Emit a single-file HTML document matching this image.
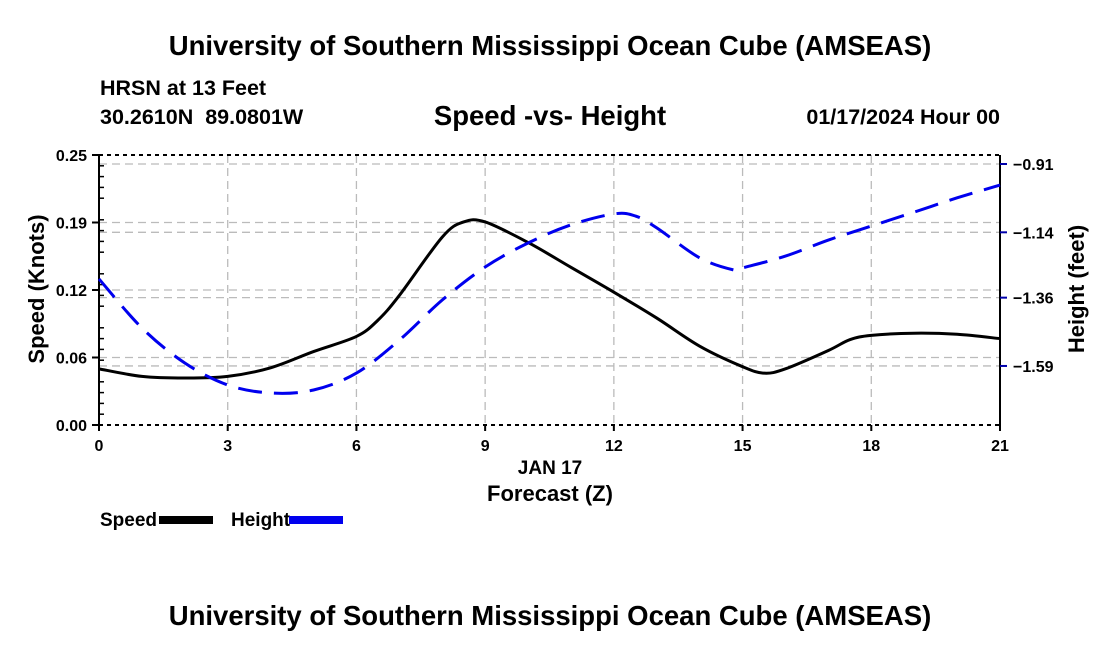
<!DOCTYPE html>
<html><head><meta charset="utf-8"><style>
html,body{margin:0;padding:0;background:#fff;}
svg text{font-family:"Liberation Sans",sans-serif;font-weight:bold;fill:#000;}
</style></head><body>
<svg id="chart" width="1100" height="650" viewBox="0 0 1100 650" xmlns="http://www.w3.org/2000/svg">
<text x="550" y="55" font-size="27.5" text-anchor="middle">University of Southern Mississippi Ocean Cube (AMSEAS)</text>
<text x="100" y="95" font-size="21.5">HRSN at 13 Feet</text>
<text x="100" y="124" font-size="21.5" xml:space="preserve">30.2610N  89.0801W</text>
<text x="550" y="125" font-size="27.5" text-anchor="middle">Speed -vs- Height</text>
<text x="1000" y="124" font-size="21.5" text-anchor="end">01/17/2024 Hour 00</text>
<g id="grid"></g>
<g id="axes"></g>
<g id="series"></g>
<text x="550" y="474" font-size="19" text-anchor="middle">JAN 17</text>
<text x="550" y="501" font-size="22" text-anchor="middle">Forecast (Z)</text>
<text transform="translate(44,289) rotate(-90)" font-size="22" text-anchor="middle">Speed (Knots)</text>
<text transform="translate(1084,289) rotate(-90)" font-size="22" text-anchor="middle">Height (feet)</text>
<g>
<text x="100" y="526" font-size="19">Speed</text>
<rect x="159" y="516" width="54" height="8" fill="#000"/>
<text x="231" y="526" font-size="19">Height</text>
<rect x="289" y="516" width="54" height="8" fill="#0000ee"/>
</g>
<text x="550" y="625" font-size="27.5" text-anchor="middle">University of Southern Mississippi Ocean Cube (AMSEAS)</text>
</svg>
<script>
const speedHours=[0,1,2,3,4,5,6,6.5,7,8,8.5,9,10,11,12,13,14,15,15.5,16,17,17.5,18,19,20,21];
const speedValues=[0.052,0.045,0.0435,0.045,0.053,0.068,0.082,0.097,0.12,0.174,0.188,0.188,0.169,0.146,0.123,0.099,0.073,0.054,0.048,0.052,0.069,0.079,0.083,0.085,0.084,0.080];
const heightHours=[0,1,2,3,4,5,6,7,8,9,10,11,12,12.5,13,14,14.8,15,16,17,18,19,20,21];
const heightValues=[-1.297,-1.462,-1.58,-1.654,-1.681,-1.671,-1.614,-1.503,-1.368,-1.257,-1.176,-1.115,-1.078,-1.085,-1.125,-1.226,-1.267,-1.26,-1.22,-1.166,-1.119,-1.072,-1.024,-0.981];
const xTicks=[0,3,6,9,12,15,18,21];
const leftTicks=[0,0.0625,0.125,0.1875,0.25];
const leftTickLabels=["0.00","0.06","0.12","0.19","0.25"];
const rightTicks=[-0.91,-1.14,-1.36,-1.59];
const rightTickLabels=["\u22120.91","\u22121.14","\u22121.36","\u22121.59"];

const X0=99,X1=1000,YT=155,YB=425;
const xs=h=>X0+(h/21)*(X1-X0);
const yL=v=>YB-(v/0.25)*(YB-YT);
const yR=v=>164+(-0.91-v)*297;
const NS='http://www.w3.org/2000/svg';
function mk(tag,attrs,parent){const e=document.createElementNS(NS,tag);for(const k in attrs)e.setAttribute(k,attrs[k]);document.getElementById(parent).appendChild(e);return e;}
function txt(x,y,s,anchor,parent){const t=mk('text',{x:x,y:y,'font-size':16,'text-anchor':anchor},parent);t.textContent=s;return t;}

xTicks.forEach(h=>{if(h>0&&h<21){const l=mk('line',{x1:xs(h),x2:xs(h),y1:YT,y2:YB,stroke:'#bbb','stroke-width':1.3,'stroke-dasharray':'8,5'},'grid');

}});
leftTicks.forEach(v=>{if(v>0&&v<0.25){const l=mk('line',{x1:X0,x2:X1,y1:yL(v),y2:yL(v),stroke:'#bbb','stroke-width':1.3,'stroke-dasharray':'8,5'},'grid');

}});
rightTicks.forEach(v=>{const l=mk('line',{x1:X0,x2:X1,y1:yR(v),y2:yR(v),stroke:'#bbb','stroke-width':1.3,'stroke-dasharray':'8,5'},'grid');

});

[[X0,YT,X0,YB,'left-axis-line'],[X1,YT,X1,YB,'right-axis-line']].forEach(a=>{const l=mk('line',{x1:a[0],y1:a[1],x2:a[2],y2:a[3],stroke:'#000','stroke-width':2},'axes');

});
[[YT,'top-axis-line'],[YB,'bottom-axis-line']].forEach(a=>{const l=mk('line',{x1:X0,y1:a[0],x2:X1,y2:a[0],stroke:'#000','stroke-width':2,'stroke-dasharray':'4,4'},'axes');

});
for(let i=0;i<=25;i++){const y=YB-i*(YB-YT)/25;mk('line',{x1:X0,x2:X0+(i%5===0?0:5),y1:y,y2:y,stroke:'#000','stroke-width':1.5},'axes');}
leftTicks.forEach((v,i)=>{mk('line',{x1:X0-7,x2:X0,y1:yL(v),y2:yL(v),stroke:'#000','stroke-width':2},'axes');
const t=txt(X0-12,yL(v)+6,leftTickLabels[i],'end','axes');

});
rightTicks.forEach((v,i)=>{mk('line',{x1:X1,x2:X1+7,y1:yR(v),y2:yR(v),stroke:'#0000aa','stroke-width':2},'axes');
const t=txt(X1+13,yR(v)+6,rightTickLabels[i],'start','axes');

});
xTicks.forEach(h=>{mk('line',{x1:xs(h),x2:xs(h),y1:YB,y2:YB+6,stroke:'#000','stroke-width':2},'axes');
const t=txt(xs(h),YB+26,String(h),'middle','axes');

});

function smooth(pts){let d='M'+pts[0][0]+','+pts[0][1];
for(let i=0;i<pts.length-1;i++){const p0=pts[Math.max(0,i-1)],p1=pts[i],p2=pts[i+1],p3=pts[Math.min(pts.length-1,i+2)];
const c1=[p1[0]+(p2[0]-p0[0])/6,p1[1]+(p2[1]-p0[1])/6],c2=[p2[0]-(p3[0]-p1[0])/6,p2[1]-(p3[1]-p1[1])/6];
d+=' C'+c1[0]+','+c1[1]+' '+c2[0]+','+c2[1]+' '+p2[0]+','+p2[1];}return d;}
const sp=mk('path',{d:smooth(speedHours.map((h,i)=>[xs(h),yL(speedValues[i])])),fill:'none',stroke:'#000','stroke-width':3},'series');


const hp=mk('path',{d:smooth(heightHours.map((h,i)=>[xs(h),yR(heightValues[i])])),fill:'none',stroke:'#0000ee','stroke-width':3,'stroke-dasharray':'24,12'},'series');


</script>
</body></html>
